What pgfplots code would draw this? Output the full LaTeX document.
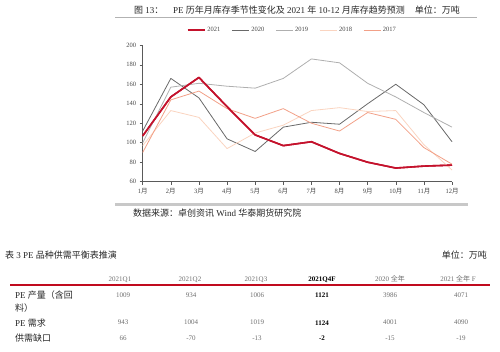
\documentclass[border=0pt]{standalone}
\usepackage{fontspec}
\setmainfont{Liberation Serif}
\newfontfamily\cjk{Noto Sans CJK SC}
\newcommand{\C}[1]{{\cjk #1}}
\usepackage{pgfplots}
\pgfplotsset{compat=1.18}
\usepackage{pgfplotstable}
\definecolor{c21}{RGB}{196,18,44}
\definecolor{c20}{RGB}{105,105,105}
\definecolor{c19}{RGB}{175,175,175}
\definecolor{c18}{RGB}{250,212,192}
\definecolor{c17}{RGB}{242,160,135}
\definecolor{axgray}{RGB}{90,90,90}
\definecolor{txtgray}{RGB}{70,70,70}
\definecolor{numgray}{RGB}{110,110,110}
\definecolor{rulegray}{RGB}{200,200,200}
\definecolor{tred}{RGB}{192,10,30}
\pgfplotstableread{
m y21 y20 y19 y18 y17
1 107 112 100 97 90
2 147 166 157 133 144
3 167 146 161 126 153
4 137 104 158 94 135
5 108 91 156 110 125
6 97 116 166 118 135
7 101 121 186 133 120
8 89 119 182 136 112
9 80 140 161 132 131
10 74 160 147 133 124
11 76 139 131 98 95
12 77 101 116 72 78
}\data
\begin{document}
\begin{tikzpicture}
\path[use as bounding box] (0,0) rectangle (500pt,352pt);
\begin{axis}[
 at={(142.7pt,170.3pt)}, anchor=south west,
 scale only axis, width=309.3pt, height=136.4pt,
 xmin=1, xmax=12, ymin=60, ymax=200,
 axis lines=left, axis line style={-, draw=axgray, line width=0.6pt},
 ytick={60,80,...,200}, xtick={1,...,12},
 xticklabels={1\C{月},2\C{月},3\C{月},4\C{月},5\C{月},6\C{月},7\C{月},8\C{月},9\C{月},10\C{月},11\C{月},12\C{月}},
 tick align=outside, major tick length=3pt, tick style={draw=axgray, line width=0.5pt},
 ticklabel style={font=\fontsize{6.5}{7}\selectfont, text=txtgray},
 /pgf/number format/assume math mode=true,
 clip=false,
 legend columns=5,
 legend style={at={(0.484,1.112)}, anchor=center, draw=none, fill=none,
   font=\fontsize{6.5}{7}\selectfont, text=txtgray,
   /tikz/every even column/.append style={column sep=9pt}},
 legend cell align=left,
]
\addplot[c21, line width=1.6pt, line join=round] table[x=m,y=y21]{\data}; \addlegendentry{2021}
\addplot[c20, line width=0.8pt, line join=round] table[x=m,y=y20]{\data}; \addlegendentry{2020}
\addplot[c19, line width=0.8pt, line join=round] table[x=m,y=y19]{\data}; \addlegendentry{2019}
\addplot[c18, line width=0.8pt, line join=round] table[x=m,y=y18]{\data}; \addlegendentry{2018}
\addplot[c17, line width=0.8pt, line join=round] table[x=m,y=y17]{\data}; \addlegendentry{2017}
\addplot[c21, line width=1.6pt, line join=round, forget plot] table[x=m,y=y21]{\data};
\end{axis}
% title
\begin{scope}[every node/.style={font=\fontsize{9}{10}\selectfont, text=black!85, inner sep=0pt}]
\node[anchor=west] at (134pt,342pt) {\C{图} 13\C{：}};
\node[anchor=west] at (173pt,342pt) {PE \C{历年月库存季节性变化及} 2021 \C{年} 10-12 \C{月库存趋势预测}};
\node[anchor=east] at (460pt,342pt) {\C{单位：万吨}};
\node[anchor=west] at (133pt,139.3pt) {\C{数据来源：卓创资讯} Wind \C{华泰期货研究院}};
\node[anchor=west] at (5pt,97pt) {\C{表} 3 PE \C{品种供需平衡表推演}};
\node[anchor=east] at (487pt,97pt) {\C{单位：万吨}};
\node[anchor=west] at (15pt,57pt) {PE \C{产量（含回}};
\node[anchor=west] at (15pt,43.7pt) {\C{料）}};
\node[anchor=west] at (15pt,29.3pt) {PE \C{需求}};
\node[anchor=west] at (15pt,13.7pt) {\C{供需缺口}};
\end{scope}
\draw[gray!60, line width=0.8pt] (115pt,335pt) -- (477pt,335pt);
\draw[rulegray, line width=2.7pt] (115pt,147.7pt) -- (468pt,147.7pt);
\draw[tred, line width=1.2pt] (10pt,67pt) -- (490pt,67pt);
% table values
\begin{scope}[every node/.style={font=\fontsize{7}{8}\selectfont, text=numgray, inner sep=0pt, anchor=center}]
\node at (120pt,72.7pt) {2021Q1};
\node at (190pt,72.7pt) {2021Q2};
\node at (256pt,72.7pt) {2021Q3};
\node[text=black, font=\fontsize{7}{8}\selectfont\bfseries] at (322pt,72.7pt) {2021Q4F};
\node at (390pt,72.7pt) {2020 \C{全年}};
\node at (458pt,72.7pt) {2021 \C{全年} F};
\node at (123pt,57pt) {1009};
\node at (191pt,57pt) {934};
\node at (257pt,57pt) {1006};
\node[text=black, font=\fontsize{7}{8}\selectfont\bfseries] at (322pt,57pt) {1121};
\node at (390pt,57pt) {3986};
\node at (461pt,57pt) {4071};
\node at (123pt,29.3pt) {943};
\node at (191pt,29.3pt) {1004};
\node at (257pt,29.3pt) {1019};
\node[text=black, font=\fontsize{7}{8}\selectfont\bfseries] at (322pt,29.3pt) {1124};
\node at (390pt,29.3pt) {4001};
\node at (461pt,29.3pt) {4090};
\node at (123pt,13.7pt) {66};
\node at (191pt,13.7pt) {-70};
\node at (257pt,13.7pt) {-13};
\node[text=black, font=\fontsize{7}{8}\selectfont\bfseries] at (322pt,13.7pt) {-2};
\node at (390pt,13.7pt) {-15};
\node at (461pt,13.7pt) {-19};
\end{scope}
\end{tikzpicture}
\end{document}
